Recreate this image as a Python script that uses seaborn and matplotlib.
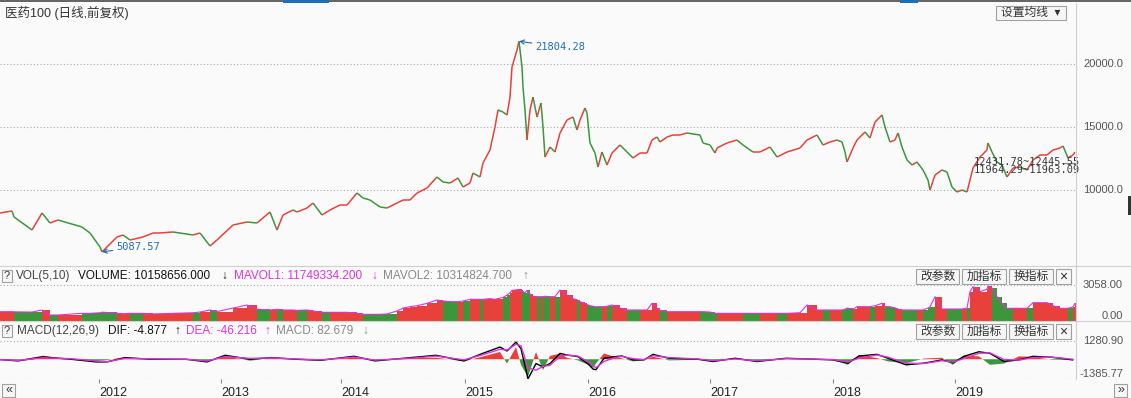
import numpy as np
import matplotlib
matplotlib.use('Agg')
import matplotlib.pyplot as plt
import matplotlib.transforms as mtransforms
from matplotlib.collections import LineCollection
from matplotlib.patches import Rectangle
import seaborn as sns

# 价格（按K线序号取样的收盘价）
bar = [0, 12, 14, 32, 42, 50, 58, 82, 90, 100,
       102, 117, 123, 130, 143, 153, 160, 173, 193, 200,
       210, 217, 233, 247, 257, 270, 277, 283, 293, 297,
       307, 313, 322, 330, 340, 347, 357, 363, 370, 380,
       387, 397, 403, 410, 417, 427, 437, 443, 450, 458,
       463, 470, 473, 480, 483, 490, 495, 498, 503, 507,
       510, 512, 517, 519, 522, 523, 525, 527, 530, 533,
       537, 541, 543, 545, 550, 555, 560, 567, 573, 577,
       580, 585, 587, 590, 595, 598, 602, 607, 612, 620,
       627, 633, 640, 647, 652, 657, 660, 667, 673, 680,
       687, 700, 703, 710, 715, 717, 727, 737, 743, 753,
       760, 770, 777, 787, 800, 807, 817, 823, 830, 837,
       842, 845, 847, 853, 857, 865, 870, 875, 882, 885,
       890, 895, 898, 902, 907, 912, 917, 923, 928, 930,
       935, 942, 947, 952, 957, 962, 967, 970, 973, 980,
       987, 988, 992, 997, 1002, 1007, 1013, 1020, 1027, 1033,
       1040, 1047, 1053, 1060, 1063, 1068, 1073, 1075]
close = [8175, 8333, 7860, 6825, 8175, 7381, 7619, 7063, 6587, 5476,
         5088, 6270, 6429, 6032, 6270, 6587, 6587, 6667, 6429, 6587,
         5556, 6032, 7222, 7460, 7381, 8254, 6825, 8016, 8413, 8254,
         8571, 8968, 8016, 8413, 8809, 8809, 9762, 9365, 9206, 8651,
         8571, 8968, 9206, 9206, 9762, 10159, 11032, 10635, 10556, 10952,
         10238, 10556, 11349, 11032, 12143, 13175, 15000, 16350, 16190, 15952,
         17381, 19762, 21111, 21804, 19762, 18175, 16350, 13968, 16350, 17381,
         15794, 16905, 15000, 12619, 13413, 13016, 14524, 15556, 15794, 14762,
         15556, 16508, 16111, 13730, 12937, 11825, 13016, 11984, 12937, 13571,
         13016, 12540, 12937, 12937, 13968, 14206, 13810, 14206, 14365, 14365,
         14524, 14365, 13730, 13571, 12937, 13333, 13730, 13968, 13571, 13016,
         13016, 13413, 12619, 13016, 13333, 13968, 14365, 13571, 13810, 13968,
         13810, 13016, 12222, 13333, 13968, 14603, 14127, 15397, 15952, 15000,
         13810, 13968, 14524, 13413, 12381, 11984, 12222, 11587, 10794, 10000,
         11190, 11587, 11429, 10238, 9841, 10000, 9841, 10794, 11746, 12619,
         13175, 13730, 13016, 12222, 11984, 11032, 11746, 11825, 11587, 12381,
         12778, 12778, 13175, 13333, 13492, 12540, 12778, 13016]
volume = [793, 793, 780, 760, 934, 510, 510, 651, 651, 700,
          750, 651, 620, 651, 651, 600, 620, 651, 700, 760,
          934, 800, 1100, 1359, 1000, 934, 1000, 934, 934, 900,
          934, 850, 736, 736, 736, 736, 650, 566, 566, 566,
          600, 850, 1100, 1217, 1300, 1500, 1784, 1700, 1642, 1642,
          1700, 1840, 1840, 1840, 1840, 1900, 1840, 1900, 2000, 2200,
          2400, 2600, 2650, 2690, 2600, 2500, 2400, 2600, 2300, 2100,
          2067, 2067, 2067, 2100, 2067, 2067, 2633, 2209, 1900, 1800,
          1642, 1500, 1400, 1300, 1217, 1217, 1217, 1250, 1359, 1100,
          934, 934, 934, 934, 1500, 1100, 900, 793, 793, 793,
          793, 793, 793, 760, 651, 651, 651, 651, 651, 651,
          651, 651, 651, 651, 700, 1359, 934, 934, 934, 934,
          934, 1000, 1100, 1000, 1217, 1217, 1217, 1300, 1500, 1217,
          1217, 1100, 1000, 934, 934, 934, 934, 934, 1100, 1200,
          2067, 1019, 1019, 1019, 1019, 1019, 1100, 2500, 2916, 2492,
          2700, 2973, 2800, 2067, 1500, 1076, 1076, 1076, 1076, 1557,
          1557, 1557, 1300, 1076, 1076, 1076, 1200, 1500]

# MACD
macd_bar = [0, 18, 43, 71, 96, 107, 125, 150, 186, 207,
            225, 250, 271, 296, 321, 354, 375, 411, 436, 464,
            482, 500, 507, 516, 521, 528, 536, 543, 550, 560,
            567, 578, 589, 593, 596, 604, 615, 622, 633, 644,
            653, 669, 698, 713, 735, 757, 786, 815, 833, 848,
            859, 877, 888, 906, 924, 942, 953, 964, 979, 990,
            1004, 1019, 1033, 1052, 1073]
dif = [-23, -116, 162, 0, -186, -186, 116, 0, 0, -186,
       278, 0, 116, 0, -70, 209, -116, 116, 278, -116,
       394, 858, 580, 1206, 742, -1380, -302, -534, -302, 412,
       298, 183, -389, -687, -733, 69, 183, 229, -46, -46,
       343, 69, 0, -160, 69, -160, 69, 0, -46, -275,
       229, 343, 69, -389, -275, -46, -252, 206, 527, 412,
       -160, -46, 206, 137, -46]
dea = [-30, -80, 100, 40, -120, -170, 60, 30, 0, -120,
       180, 60, 90, 20, -40, 150, -60, 70, 220, -40,
       300, 700, 650, 1050, 950, -600, -770, -500, -420, 200,
       300, 220, -200, -450, -600, -150, 120, 200, 40, -20,
       250, 120, 20, -100, 20, -110, 40, 10, -20, -200,
       80, 300, 150, -280, -300, -100, -200, 50, 420, 450,
       -20, -60, 120, 150, 0]
macd_hist = [0, -60, 250, -40, -120, -60, 150, -50, 0, -130,
             200, -100, 60, -40, -80, 120, -100, 90, 110, -150,
             180, 510, -300, 860, -400, -1230, 510, -765, 240, 394,
             100, -80, -400, -620, -300, 410, 150, 60, -150, -60,
             180, -80, -40, -120, 90, -100, 60, -30, -50, -390,
             300, 80, -150, -275, 50, 108, -390, 275, 200, -390,
             -300, 206, 160, -40, -60]

year_bar = [99, 221, 341, 465, 588, 710, 833, 955]
year_labels = ['2012', '2013', '2014', '2015', '2016', '2017', '2018', '2019']
price_ticks = [20000, 15000, 10000]
vol_top, vol_bottom = 3058.00, 0.00
macd_top, macd_bottom = 1280.90, -1385.77

BG = '#fafafa'
RED = '#e8413b'
GREEN = '#3c963c'
MAG = '#dd33dd'
BLUE = '#1f6fb5'

sns.set_theme(style='white', rc={'axes.facecolor': BG, 'figure.facecolor': BG})
plt.rcParams['font.family'] = ['Liberation Sans', 'Noto Sans CJK SC', 'DejaVu Sans']

W, H = 1131, 398
fig = plt.figure(figsize=(W / 100, H / 100), dpi=100)


def fx(x):
    return x / W


def fy(y):
    return 1 - y / H


def panel(top, bottom, ylim):
    ax = fig.add_axes([0, fy(bottom), 1076 / W, (bottom - top) / H])
    ax.set_xlim(0, 1076)
    ax.set_ylim(*ylim)
    for s in ax.spines.values():
        s.set_visible(False)
    ax.set_xticks([])
    ax.set_yticks([])
    return ax


def dotted(ax, v):
    ax.axhline(v, color='#a8a8a8', lw=0.8, ls=(0, (1, 2)), zorder=0)


def right_label(ax, v, s, va='center'):
    tr = mtransforms.blended_transform_factory(fig.transFigure, ax.transData)
    ax.text(fx(1123), v, s, transform=tr, ha='right', va=va, fontsize=8,
            color='#555555', clip_on=False)


def button(x0, y0, w, h, label, fs=8.5):
    fig.patches.append(Rectangle((fx(x0), fy(y0 + h)), w / W, h / H,
                                 transform=fig.transFigure, facecolor='#f6f6f6',
                                 edgecolor='#a0a0a0', lw=0.8))
    fig.text(fx(x0 + w / 2), fy(y0 + h / 2), label, ha='center', va='center',
             fontsize=fs, color='#333333')


# ---- 主图 ----
ax_p = panel(4, 266, (3968, 24762))
for v in price_ticks:
    dotted(ax_p, v)
    right_label(ax_p, v, f'{v:.1f}')

pts = np.column_stack([bar, close])
segs = np.stack([pts[:-1], pts[1:]], axis=1)
up = np.diff(close) >= 0
ax_p.add_collection(LineCollection(segs, colors=np.where(up, RED, GREEN),
                                   linewidths=1.1))

mono = 'DejaVu Sans Mono'
ax_p.annotate('21804.28', xy=(519, 21804), xytext=(535, 21349),
              va='center', fontsize=7.5, family=mono, color=BLUE,
              arrowprops=dict(arrowstyle='->', color=BLUE, lw=0.8,
                              shrinkA=0, shrinkB=0))
ax_p.annotate('5087.57', xy=(102, 5088), xytext=(116, 5476),
              va='center', fontsize=7.5, family=mono, color=BLUE,
              arrowprops=dict(arrowstyle='->', color=BLUE, lw=0.8,
                              shrinkA=0, shrinkB=0))
ax_p.text(974, 12619, '12431.78~12445.55', va='top', fontsize=7.5,
          family=mono, color='#3a3a3a')
ax_p.text(974, 11984, '11964.29~11963.09', va='top', fontsize=7.5,
          family=mono, color='#3a3a3a')
ax_p.plot([1062, 1076], [12150, 12150], color='#888888', lw=0.8)

fig.text(fx(5), fy(13), '医药100 (日线,前复权)', ha='left', va='center',
         fontsize=9, color='#333333')
button(996, 6, 70, 14, '设置均线  ▾', fs=8.5)

# ---- 成交量 ----
ax_v = panel(266, 321, (0, 4672))
dotted(ax_v, vol_top)
right_label(ax_v, vol_top, f'{vol_top:.2f}')
right_label(ax_v, vol_bottom, f'{vol_bottom:.2f}', va='bottom')
widths = np.diff(bar + [1076])
vcol = [RED] + list(np.where(up, RED, GREEN))
ax_v.bar(bar, volume, width=widths, align='edge', color=vcol, lw=0)
sns.lineplot(x=bar, y=volume, ax=ax_v, color=MAG, lw=0.8)
ax_v.set_xlabel('')
ax_v.set_ylabel('')

# ---- MACD ----
ax_m = panel(321, 379, (-1385.77, 2684.4))
dotted(ax_m, macd_top)
dotted(ax_m, macd_bottom)
right_label(ax_m, macd_top, f'{macd_top:.2f}')
right_label(ax_m, macd_bottom, f'{macd_bottom:.2f}', va='bottom')
h = np.array(macd_hist)
ax_m.fill_between(macd_bar, 0, h, where=h >= 0, interpolate=True, color=RED, lw=0)
ax_m.fill_between(macd_bar, 0, h, where=h < 0, interpolate=True, color=GREEN, lw=0)
sns.lineplot(x=macd_bar, y=dif, ax=ax_m, color='black', lw=1.0)
sns.lineplot(x=macd_bar, y=dea, ax=ax_m, color=MAG, lw=1.0)
ax_m.set_xlabel('')
ax_m.set_ylabel('')
ax_m.set_xticks(year_bar)
ax_m.set_xticklabels(year_labels)
ax_m.tick_params(axis='x', bottom=True, length=3, width=0.8, color='#888888',
                 pad=3, labelsize=9, labelcolor='#222222')
for lab in ax_m.get_xticklabels():
    lab.set_ha('left')

# ---- 指标栏标题 ----
def header(y, parts):
    for x, s, c in parts:
        fig.text(fx(x), fy(y), s, ha='left', va='center', fontsize=8.5, color=c)


header(276, [(16, 'VOL(5,10)', '#444444'),
             (78, 'VOLUME: 10158656.000', '#111111'), (221, '↓', '#111111'),
             (234, 'MAVOL1: 11749334.200', MAG), (371, '↓', MAG),
             (383, 'MAVOL2: 10314824.700', '#888888'), (522, '↑', '#888888')])
header(331, [(17, 'MACD(12,26,9)', '#444444'),
             (108, 'DIF: -4.877', '#111111'), (174, '↑', '#111111'),
             (186, 'DEA: -46.216', MAG), (264, '↑', MAG),
             (276, 'MACD: 82.679', '#888888'), (362, '↓', '#888888')])

for y0 in (269, 324):
    button(2, y0 + 1, 10, 12, '?', fs=8)
    button(916, y0, 43, 15, '改参数')
    button(962, y0, 44, 15, '加指标')
    button(1009, y0, 44, 15, '换指标')
    button(1056, y0, 15, 15, '×', fs=10)

button(2, 384, 13, 13, '«', fs=9)
button(1114, 384, 13, 13, '»', fs=9)

# ---- 边框线 ----
for y in (266, 321):
    fig.add_artist(plt.Line2D([0, 1], [fy(y), fy(y)], color='#d0d0d0', lw=0.8))
fig.add_artist(plt.Line2D([fx(1076), fx(1076)], [fy(379), fy(3)],
                          color='#d0d0d0', lw=0.8))
fig.patches.append(Rectangle((0, fy(2)), 1, 2 / H, transform=fig.transFigure,
                             facecolor='#666666', lw=0))
for x0, x1 in ((283, 329), (900, 918)):
    fig.patches.append(Rectangle((fx(x0), fy(3)), (x1 - x0) / W, 3 / H,
                                 transform=fig.transFigure, facecolor=BLUE, lw=0))
fig.patches.append(Rectangle((fx(1128), fy(215)), 3 / W, 19 / H,
                             transform=fig.transFigure, facecolor='#333333', lw=0))

fig.savefig('out.png', dpi=100, facecolor=BG)
